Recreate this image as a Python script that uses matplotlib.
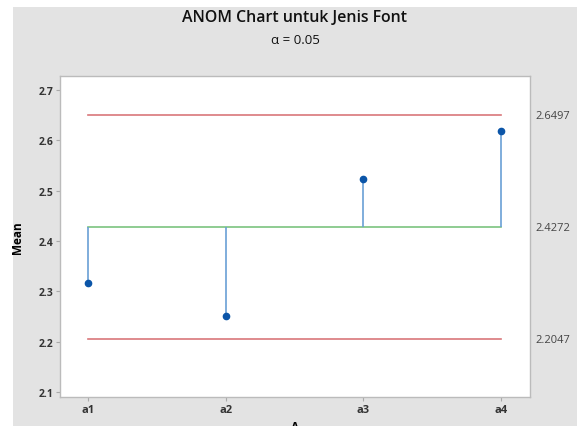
import matplotlib
matplotlib.use('Agg')
import matplotlib.pyplot as plt
from matplotlib.patches import Rectangle

groups = ['a1', 'a2', 'a3', 'a4']
means = [2.317, 2.250, 2.523, 2.618]
center = 2.4272
upper = 2.6497
lower = 2.2047
yticks = [2.1, 2.2, 2.3, 2.4, 2.5, 2.6, 2.7]

plt.rcParams['font.family'] = ['Open Sans', 'DejaVu Sans']

W, H = 577, 427
fig = plt.figure(figsize=(W / 100, H / 100), dpi=100)
fig.patch.set_facecolor('white')
# gray frame like the Minitab window, offset from the top-left
fig.patches.append(Rectangle((13 / W, 0), 1 - 13 / W, 1 - 8 / H,
                             transform=fig.transFigure, facecolor='#e3e3e3',
                             edgecolor='none', zorder=-10))

ax = fig.add_axes([60 / W, 1 - 398 / H, (530 - 60) / W, (398 - 77) / H])
x = list(range(1, len(groups) + 1))

ax.plot([x[0], x[-1]], [upper, upper], color='#d9777a', lw=1.2)
ax.plot([x[0], x[-1]], [lower, lower], color='#d9777a', lw=1.2)
ax.plot([x[0], x[-1]], [center, center], color='#7cc47f', lw=1.2)
ax.vlines(x, center, means, color='#6a9fd6', lw=1.2)
ax.plot(x, means, 'o', color='#0b55a8', ms=4.5, zorder=5)

ax.set_xlim(0.797, 4.21)
ax.set_ylim(2.090, 2.728)
ax.set_xticks(x)
ax.set_xticklabels(groups, fontsize=8, fontweight='bold', color='#333333')
ax.set_yticks(yticks)
ax.set_yticklabels([f'{v:.1f}' for v in yticks], fontsize=7.5, fontweight='bold', color='#333333')
ax.tick_params(length=3, color='#aaaaaa', width=0.8, pad=2)
for s in ax.spines.values():
    s.set_color('#bbbbbb')
    s.set_linewidth(1.0)

for v in [upper, center, lower]:
    ax.text(1.012, (v - 2.090) / (2.728 - 2.090), f'{v:.4f}', transform=ax.transAxes,
            fontsize=8, color='#444444', va='center', ha='left')

ax.set_ylabel('Mean', fontsize=8.5, fontweight='bold', labelpad=10)
# x label sits partly below the picture edge, as in the original screenshot
fig.text(295 / W, 1 - 428 / H, 'A', fontsize=8.5, fontweight='bold', ha='center', va='center')

fig.text(295 / W, 1 - 18 / H, 'ANOM Chart untuk Jenis Font', fontsize=11.4, fontweight='semibold',
         ha='center', va='center', color='#111111')
fig.text(295 / W, 1 - 40 / H, 'α = 0.05', fontsize=9.5, ha='center', va='center', color='#111111')

fig.savefig('out.png', dpi=100)
